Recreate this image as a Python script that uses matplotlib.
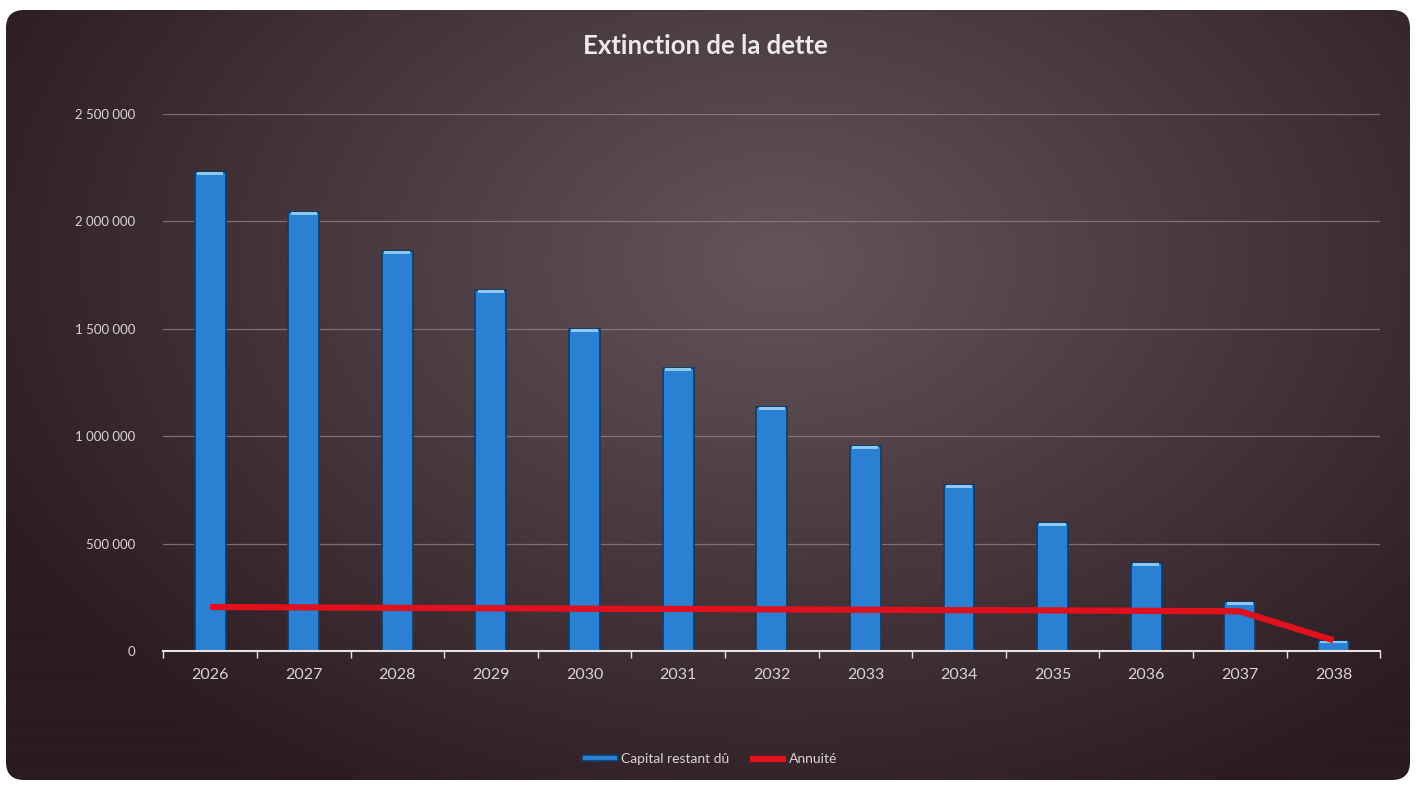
"""
Extinction de la dette - capital restant dû (barres) et annuité (ligne).
Output: out.png
"""

import matplotlib.pyplot as plt
import numpy as np
from matplotlib.patches import FancyBboxPatch
from matplotlib.ticker import FuncFormatter, MultipleLocator

# --- Data --------------------------------------------------------------------
years = ["2026", "2027", "2028", "2029", "2030", "2031", "2032",
         "2033", "2034", "2035", "2036", "2037", "2038"]
capital_restant = [2230000, 2044000, 1862000, 1681000, 1499000, 1317000, 1136000,
                   954000, 773000, 596000, 410000, 228000, 47000]
annuite = [205000, 203000, 201000, 199000, 197000, 196000, 194000,
           192000, 190000, 189000, 187000, 185000, 50000]

# --- Style -------------------------------------------------------------------
plt.rcParams["font.family"] = ["Lato", "DejaVu Sans"]
TEXT = "#d9d4d6"
BAR = "#2a80d2"
BAR_EDGE = "#103c68"
CAP = "#8cc8f2"
RED = "#e0101c"

fig = plt.figure(figsize=(14.2, 7.85), dpi=100)
fig.patch.set_facecolor("white")

# background panel with a soft radial gradient
bg = fig.add_axes([0, 0, 1, 1], zorder=0)
bg.set_xlim(0, 1420)
bg.set_ylim(785, 0)
bg.axis("off")
gy, gx = np.mgrid[0:785:4, 0:1420:4]
r = np.sqrt(((gx - 780) / 900) ** 2 + ((gy - 260) / 620) ** 2)
shade = np.clip(1 - r, 0, 1)
dark = np.array([0x2b, 0x1b, 0x20]) / 255
light = np.array([0x63, 0x55, 0x5a]) / 255
img = dark + shade[..., None] * (light - dark)
im = bg.imshow(img, extent=(0, 1420, 785, 0), aspect="auto", interpolation="bicubic")
panel = FancyBboxPatch((6, 10), 1404, 770, boxstyle="round,pad=0,rounding_size=18",
                       transform=bg.transData, facecolor="none", edgecolor="none")
bg.add_patch(panel)
im.set_clip_path(panel)

# --- Chart -------------------------------------------------------------------
ax = fig.add_axes([0.115, 0.1707, 0.857, 0.684], zorder=1)
ax.set_facecolor("none")
x = np.arange(len(years))
vals = np.array(capital_restant)

bars = ax.bar(x, vals, width=0.33, color=BAR, edgecolor=BAR_EDGE, linewidth=1.2,
              label="Capital restant dû", zorder=2)
cap_h = 12000
ax.bar(x, np.full(len(x), cap_h), bottom=vals - cap_h, width=0.28, color=CAP,
       linewidth=0, zorder=3)
line, = ax.plot(x, annuite, color=RED, linewidth=4.5, solid_capstyle="butt",
                label="Annuité", zorder=4)

ax.set_xlim(-0.5, len(years) - 0.5)
ax.set_ylim(0, 2500000)
ax.yaxis.set_major_locator(MultipleLocator(500000))
ax.yaxis.set_major_formatter(FuncFormatter(lambda v, _: f"{int(v):,}".replace(",", " ")))
ax.grid(axis="y", color="#8e7f85", linewidth=0.9, alpha=0.8, zorder=0)
ax.set_axisbelow(True)

for side in ("top", "right", "left"):
    ax.spines[side].set_visible(False)
ax.spines["bottom"].set_color("#e6e2e4")
ax.spines["bottom"].set_linewidth(1.5)

ax.set_xticks(x)
ax.set_xticklabels(years)
ax.set_xticks(np.arange(-0.5, len(years)), minor=True)
ax.tick_params(axis="x", which="major", length=0, pad=12, labelsize=11.5, labelcolor=TEXT)
ax.tick_params(axis="x", which="minor", length=5, width=1, color="#e6e2e4", direction="out")
ax.tick_params(axis="y", length=0, pad=20, labelsize=9.5, labelcolor=TEXT)

fig.text(0.497, 0.942, "Extinction de la dette", ha="center", va="center",
         fontsize=18.5, fontweight="bold", color="#eeeaec")

fig.legend([bars, line], ["Capital restant dû", "Annuité"], loc="center",
           bbox_to_anchor=(0.5, 0.033), ncol=2, frameon=False,
           fontsize=10, labelcolor=TEXT, handlelength=2.6, handleheight=0.35,
           columnspacing=1.5, handletextpad=0.2)

plt.savefig("out.png", dpi=100)
plt.close(fig)
